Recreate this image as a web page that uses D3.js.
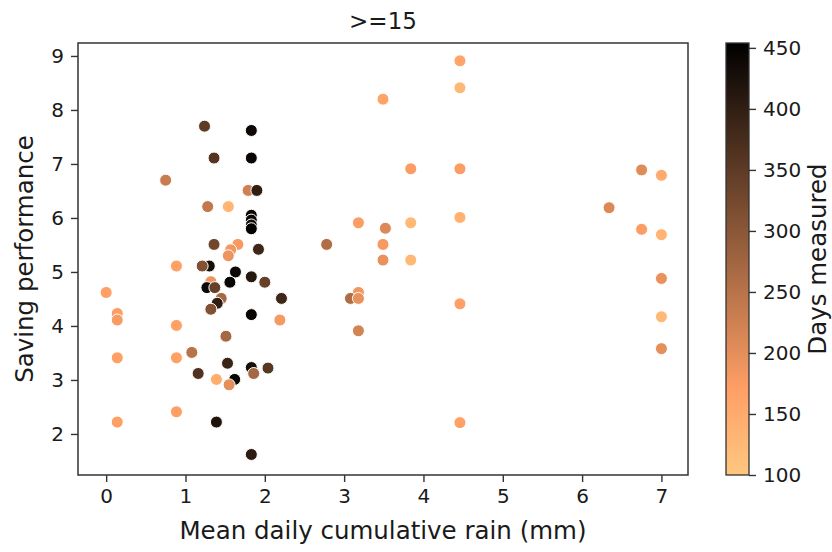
<!DOCTYPE html>
<html>
<head>
<meta charset="utf-8">
<script src="https://cdn.jsdelivr.net/npm/d3@7"></script>
<style>
  html, body { margin: 0; padding: 0; background: #fff; }
  svg text { font-family: "DejaVu Sans", sans-serif; fill: #1a1a1a; }
</style>
</head>
<body>
<svg id="chart" width="832" height="552"></svg>
<script>
// ---- data ----
const title = ">=15";
const xLabel = "Mean daily cumulative rain (mm)";
const yLabel = "Saving performance";
const cLabel = "Days measured";

const rain = [
  1.24, 1.83, 1.36, 1.83, 0.75, 1.79, 1.90, 1.28, 1.54,
  1.83, 1.83, 1.83, 1.83,
  1.36, 1.66, 1.92, 2.78, 1.57, 1.54, 0.886, 1.30, 1.21, 1.63,
  1.83, 2.00, 1.56, 0.00, 1.32, 1.27, 1.37, 2.21, 1.45, 1.40, 1.32,
  0.14, 0.14, 1.83, 2.19, 0.886, 1.51, 1.08, 0.14, 0.886, 1.53,
  1.83, 2.04, 1.86, 1.16, 1.39, 1.62, 1.55, 0.886, 0.14, 1.39, 1.83,
  4.46, 4.46, 3.49, 3.84, 4.46, 4.46, 3.18, 3.84, 3.52, 3.49, 3.49,
  3.84, 3.18, 3.08, 3.18, 3.18, 4.46, 4.46,
  6.75, 7.00, 6.34, 6.75, 7.00, 7.00, 7.00, 7.00
];
const performance = [
  7.70, 7.62, 7.11, 7.11, 6.70, 6.51, 6.51, 6.21, 6.21,
  6.05, 5.96, 5.87, 5.80,
  5.51, 5.51, 5.42, 5.51, 5.41, 5.30, 5.11, 5.11, 5.11, 5.00,
  4.91, 4.81, 4.81, 4.62, 4.82, 4.71, 4.71, 4.51, 4.51, 4.42, 4.31,
  4.23, 4.11, 4.21, 4.11, 4.01, 3.81, 3.51, 3.41, 3.41, 3.31,
  3.23, 3.22, 3.12, 3.12, 3.01, 3.01, 2.91, 2.41, 2.22, 2.22, 1.62,
  8.91, 8.41, 8.20, 6.91, 6.91, 6.01, 5.91, 5.91, 5.81, 5.51, 5.22,
  5.22, 4.62, 4.51, 4.51, 3.91, 4.41, 2.21,
  6.89, 6.79, 6.19, 5.79, 5.69, 4.88, 4.17, 3.58
];
const days = [
  350, 440, 360, 445, 232, 224, 400, 240, 130,
  440, 445, 430, 450,
  330, 180, 385, 259, 185, 190, 170, 430, 310, 440,
  410, 340, 445, 172, 190, 440, 340, 385, 270, 400, 310,
  175, 178, 445, 180, 170, 270, 250, 172, 170, 390,
  430, 355, 270, 365, 145, 445, 200, 172, 172, 420, 405,
  160, 125, 165, 175, 175, 140, 175, 125, 210, 180, 195,
  125, 185, 260, 195, 220, 170, 170,
  205, 150, 210, 175, 135, 195, 125, 200
];

const xTicks = [0, 1, 2, 3, 4, 5, 6, 7];
const yTicks = [2, 3, 4, 5, 6, 7, 8, 9];
const cTicks = [100, 150, 200, 250, 300, 350, 400, 450];

// ---- layout ----
const svg = d3.select("#chart");
const L = 78, R = 688, T = 43, B = 475;
const cbL = 726, cbR = 749;
const tickLen = 7, tickPad = 7;

const x = d3.scaleLinear().domain([-0.355, 7.335]).range([L, R]);
const y = d3.scaleLinear().domain([1.24, 9.24]).range([B, T]);
const cScale = d3.scaleLinear().domain([100, 454]).range([B, T]);

// matplotlib "copper_r"
function copperR(v) {
  let t = (v - 100) / (454 - 100);
  t = Math.max(0, Math.min(1, t));
  const s = 1 - t;
  const r = Math.min(1, 1.25 * s), g = 0.7812 * s, b = 0.4975 * s;
  return d3.rgb(r * 255, g * 255, b * 255).formatHex();
}

// ---- points ----
const pts = rain.map((d, i) => ({ x: d, y: performance[i], c: days[i] }));
svg.append("g")
  .selectAll("circle")
  .data(pts)
  .join("circle")
  .attr("cx", d => x(d.x))
  .attr("cy", d => y(d.y))
  .attr("r", 6)
  .attr("fill", d => copperR(d.c))
  .attr("stroke", "#fff")
  .attr("stroke-width", 1);

// ---- axes ----
const axisColor = "#333";
const xAxis = svg.append("g").attr("transform", `translate(0,${B})`)
  .call(d3.axisBottom(x).tickValues(xTicks).tickSize(tickLen).tickPadding(tickPad).tickFormat(d3.format("d")));
const yAxis = svg.append("g").attr("transform", `translate(${L},0)`)
  .call(d3.axisLeft(y).tickValues(yTicks).tickSize(tickLen).tickPadding(tickPad).tickFormat(d3.format("d")));
[xAxis, yAxis].forEach(a => {
  a.select(".domain").remove();
  a.selectAll(".tick line").attr("stroke", axisColor).attr("stroke-width", 1.4);
  a.selectAll(".tick text").attr("font-size", 20).attr("font-family", "DejaVu Sans").attr("fill", "#1a1a1a");
});

svg.append("rect")
  .attr("x", L).attr("y", T).attr("width", R - L).attr("height", B - T)
  .attr("fill", "none").attr("stroke", axisColor).attr("stroke-width", 1.5);

// ---- labels ----
svg.append("text").attr("x", (L + R) / 2).attr("y", 29)
  .attr("text-anchor", "middle").attr("font-size", 23).text(title);
svg.append("text").attr("x", (L + R) / 2).attr("y", 539)
  .attr("text-anchor", "middle").attr("font-size", 24.5).text(xLabel);
svg.append("text").attr("transform", `translate(33,${(T + B) / 2}) rotate(-90)`)
  .attr("text-anchor", "middle").attr("font-size", 24.5).text(yLabel);

// ---- colorbar ----
const defs = svg.append("defs");
const grad = defs.append("linearGradient").attr("id", "cb")
  .attr("x1", 0).attr("y1", 1).attr("x2", 0).attr("y2", 0);
d3.range(0, 1.0001, 0.02).forEach(t => {
  grad.append("stop").attr("offset", t).attr("stop-color", copperR(100 + t * 354));
});
svg.append("rect").attr("x", cbL).attr("y", T).attr("width", cbR - cbL).attr("height", B - T)
  .attr("fill", "url(#cb)").attr("stroke", axisColor).attr("stroke-width", 1.3);
const cAxis = svg.append("g").attr("transform", `translate(${cbR},0)`)
  .call(d3.axisRight(cScale).tickValues(cTicks).tickSize(tickLen).tickPadding(tickPad).tickFormat(d3.format("d")));
cAxis.select(".domain").remove();
cAxis.selectAll(".tick line").attr("stroke", axisColor).attr("stroke-width", 1.4);
cAxis.selectAll(".tick text").attr("font-size", 20).attr("font-family", "DejaVu Sans").attr("fill", "#1a1a1a");

svg.append("text").attr("transform", `translate(826,${(T + B) / 2}) rotate(-90)`)
  .attr("text-anchor", "middle").attr("font-size", 24.5).text(cLabel);
</script>
</body>
</html>
